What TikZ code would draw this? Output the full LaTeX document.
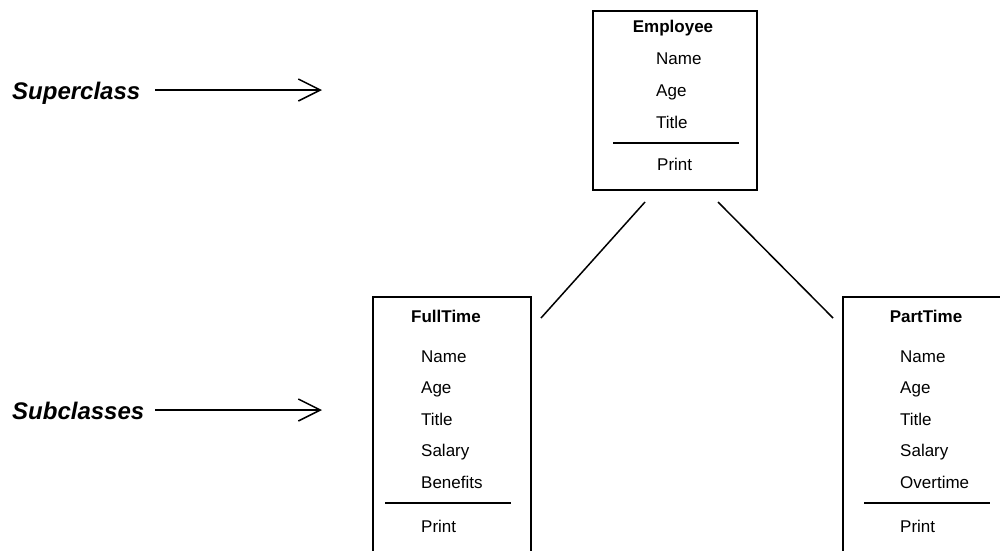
\documentclass[tikz,border=0pt]{standalone}
\usepackage{fontspec}
\setmainfont{Liberation Sans}
\usetikzlibrary{arrows.meta}
\begin{document}
\begin{tikzpicture}[x=1pt,y=-1pt,
  classbox/.style={draw, line width=1.6pt, anchor=north west, inner sep=0pt, outer sep=0pt},
  attr/.style={anchor=base west, inner sep=0pt, font=\fontsize{17}{20}\selectfont},
  head/.style={anchor=base, inner sep=0pt, font=\fontsize{17}{20}\selectfont\bfseries},
  sepline/.style={line width=1.6pt},
  assoc/.style={line width=1.5pt},
  lbl/.style={anchor=base west, inner sep=0pt, font=\fontsize{24}{28}\selectfont\bfseries\itshape},
  pointer/.style={line width=1.5pt, -{Straight Barb[length=22pt,width=22pt]}}
]
\clip (0,0) rectangle (1000,550);
% Employee
\node[classbox, minimum width=164pt, minimum height=179pt] (emp) at (593,11) {};
\node[head] (empH) at (673,32) {Employee};
\node[attr] (empA1) at (656,64) {Name};
\node[attr] (empA2) at (656,96) {Age};
\node[attr] (empA3) at (656,128) {Title};
\coordinate (empS1) at (613,143);
\coordinate (empS2) at (739,143);
\draw[sepline] (empS1) -- (empS2);
\node[attr] (empM1) at (657,170) {Print};
% FullTime
\node[classbox, minimum width=158pt, minimum height=280pt] (ft) at (373,297) {};
\node[head] (ftH) at (446,322) {FullTime};
\node[attr] (ftA1) at (421,362) {Name};
\node[attr] (ftA2) at (421,393.5) {Age};
\node[attr] (ftA3) at (421,425) {Title};
\node[attr] (ftA4) at (421,456.5) {Salary};
\node[attr] (ftA5) at (421,488) {Benefits};
\coordinate (ftS1) at (385,503);
\coordinate (ftS2) at (511,503);
\draw[sepline] (ftS1) -- (ftS2);
\node[attr] (ftM1) at (421,532) {Print};
% PartTime
\node[classbox, minimum width=160pt, minimum height=280pt] (pt) at (843,297) {};
\node[head] (ptH) at (926,322) {PartTime};
\node[attr] (ptA1) at (900,362) {Name};
\node[attr] (ptA2) at (900,393.5) {Age};
\node[attr] (ptA3) at (900,425) {Title};
\node[attr] (ptA4) at (900,456.5) {Salary};
\node[attr] (ptA5) at (900,488) {Overtime};
\coordinate (ptS1) at (864,503);
\coordinate (ptS2) at (990,503);
\draw[sepline] (ptS1) -- (ptS2);
\node[attr] (ptM1) at (900,532) {Print};
% inheritance lines
\coordinate (eL) at (645,202);
\coordinate (fT) at (541,318);
\coordinate (eR) at (718,202);
\coordinate (pT) at (833,318);
\draw[assoc] (eL) -- (fT);
\draw[assoc] (eR) -- (pT);
% labels
\node[lbl] (sup) at (12,99) {Superclass};
\node[lbl] (sub) at (12,419) {Subclasses};
\coordinate (supA) at (155,90);
\coordinate (supB) at (322,90);
\coordinate (subA) at (155,410);
\coordinate (subB) at (322,410);
\draw[pointer] (supA) -- (supB);
\draw[pointer] (subA) -- (subB);
\end{tikzpicture}
\end{document}
